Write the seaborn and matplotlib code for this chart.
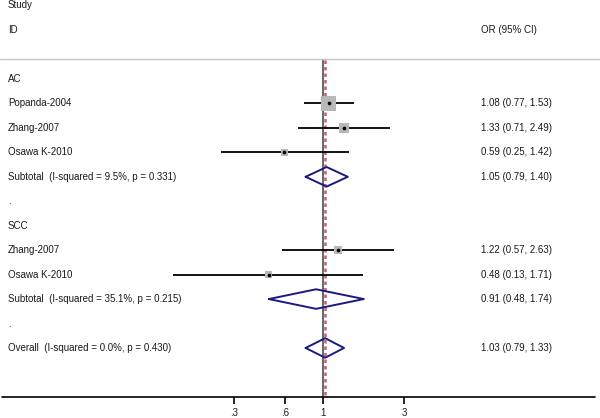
import numpy as np
import pandas as pd
import matplotlib
matplotlib.use("Agg")
import matplotlib.pyplot as plt
import seaborn as sns

#-------------------------------------------------------------------------------------
# Data (odds ratios and 95% CI)
#-------------------------------------------------------------------------------------
ac_studies = ["Popanda-2004", "Zhang-2007", "Osawa K-2010"]
ac_or = [1.08, 1.33, 0.59]
ac_lo = [0.77, 0.71, 0.25]
ac_hi = [1.53, 2.49, 1.42]
ac_subtotal = [1.05, 0.79, 1.40]
ac_subtotal_label = "Subtotal  (I-squared = 9.5%, p = 0.331)"

scc_studies = ["Zhang-2007", "Osawa K-2010"]
scc_or = [1.22, 0.48]
scc_lo = [0.57, 0.13]
scc_hi = [2.63, 1.71]
scc_subtotal = [0.91, 0.48, 1.74]
scc_subtotal_label = "Subtotal  (I-squared = 35.1%, p = 0.215)"

overall = [1.03, 0.79, 1.33]
overall_label = "Overall  (I-squared = 0.0%, p = 0.430)"

tick_values = [0.3, 0.6, 1, 3]
tick_labels = [".3", ".6", "1", "3"]

#-------------------------------------------------------------------------------------
# Row layout
#-------------------------------------------------------------------------------------
studies = pd.DataFrame({
    "study": ac_studies + scc_studies,
    "OR": ac_or + scc_or,
    "lo": ac_lo + scc_lo,
    "hi": ac_hi + scc_hi,
    "row": [1, 2, 3, 7, 8],
})
box_side = [11, 6.8, 5.2, 5.8, 5.0]   # box size in points (study weight)

pooled = pd.DataFrame([ac_subtotal, scc_subtotal, overall], columns=["OR", "lo", "hi"])
pooled["row"] = [4, 9, 11]
pooled["label"] = [ac_subtotal_label, scc_subtotal_label, overall_label]

headers = [(0, "AC"), (5, "."), (6, "SCC"), (10, ".")]

def ci_text(o, l, h):
    return f"{o:.2f} ({l:.2f}, {h:.2f})"

#-------------------------------------------------------------------------------------
# Figure
#-------------------------------------------------------------------------------------
sns.set_theme(style="white")
plt.rcParams["font.family"] = ["Liberation Sans", "DejaVu Sans"]
plt.rcParams["text.color"] = "#1a1a1a"
fs = 7

fig = plt.figure(figsize=(6, 4.18), dpi=100)
ax = fig.add_axes([0, 0, 1, 1])
ax.set_xscale("log")
px_per_ln = 73.7
ax.set_xlim(np.exp(-323 / px_per_ln), np.exp(277 / px_per_ln))
ax.set_ylim(13.865, -3.231)
ax.axis("off")

ytr = ax.get_yaxis_transform()   # x in axes fraction, y in rows

# Header
ax.text(8 / 600, -3.03, "Study", transform=ytr, fontsize=fs, va="center", ha="left")
ax.text(8 / 600, -2.02, "ID", transform=ytr, fontsize=fs, va="center", ha="left")
ax.text(481 / 600, -2.02, "OR (95% CI)", transform=ytr, fontsize=fs, va="center", ha="left")
ax.plot([0, 1], [-0.81, -0.81], transform=ytr, color="#c8c8c8", lw=1.0)

# Null line and overall effect line
ax.vlines(1, -0.78, 13.0, color="#5a5a5a", lw=1.3, zorder=1)
ax.vlines(overall[0], -0.78, 13.0, color="#c85f6e", lw=1.8, linestyles=(0, (1.4, 1.2)), zorder=2)

# Subgroup headers / blank rows
for r, t in headers:
    ax.text(8 / 600, r, t, transform=ytr, fontsize=fs, va="center", ha="left")

# Studies: CI lines, weighted boxes, point estimate
ax.hlines(studies["row"], studies["lo"], studies["hi"], color="black", lw=1.3, zorder=3)
sns.scatterplot(data=studies, x="OR", y="row", marker="s", s=np.array(box_side) ** 2,
                color="#b8b8b8", linewidth=0, ax=ax, zorder=4, legend=False)
sns.scatterplot(data=studies, x="OR", y="row", marker="o", s=7,
                color="black", linewidth=0, ax=ax, zorder=5, legend=False)
for _, r in studies.iterrows():
    ax.text(8 / 600, r["row"], r["study"], transform=ytr, fontsize=fs, va="center", ha="left")
    ax.text(481 / 600, r["row"], ci_text(r["OR"], r["lo"], r["hi"]), transform=ytr,
            fontsize=fs, va="center", ha="left")

# Pooled diamonds
for _, r in pooled.iterrows():
    y = r["row"]
    ax.plot([r["lo"], r["OR"], r["hi"], r["OR"], r["lo"]],
            [y, y - 0.4, y, y + 0.4, y], color="#1a1a80", lw=1.4, zorder=6)
    ax.text(8 / 600, y, r["label"], transform=ytr, fontsize=fs, va="center", ha="left")
    ax.text(481 / 600, y, ci_text(r["OR"], r["lo"], r["hi"]), transform=ytr,
            fontsize=fs, va="center", ha="left")

# Bottom axis
ax.plot([2 / 600, 595 / 600], [13.0, 13.0], transform=ytr, color="black", lw=1.2)
ax.vlines(tick_values, 13.0, 13.29, color="black", lw=1.2)
for v, t in zip(tick_values, tick_labels):
    ax.text(v, 13.66, t, fontsize=fs, ha="center", va="center")

plt.savefig("out.png", dpi=100)
